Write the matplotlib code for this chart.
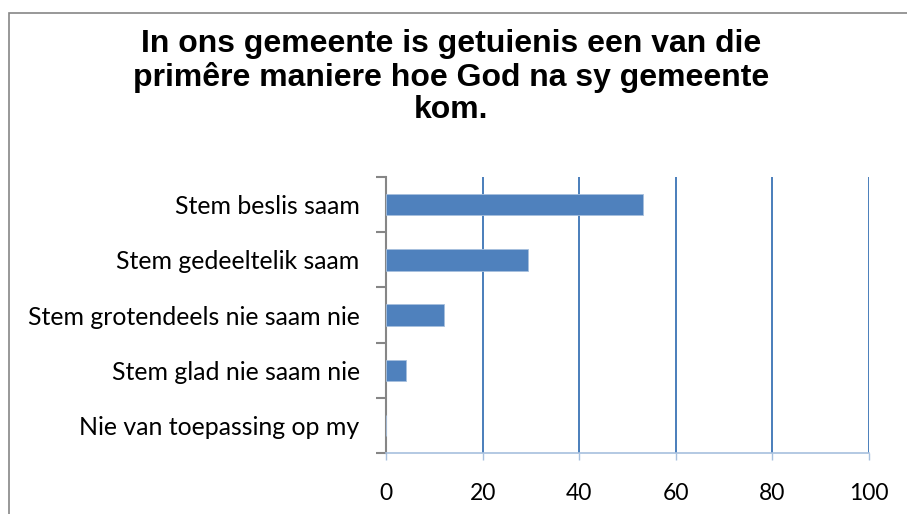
import matplotlib
matplotlib.use("Agg")
import matplotlib.pyplot as plt
from matplotlib.patches import Rectangle

# data
categories = ["Stem beslis saam", "Stem gedeeltelik saam",
              "Stem grotendeels nie saam nie", "Stem glad nie saam nie",
              "Nie van toepassing op my"]
values = [53.2, 29.4, 12.0, 4.2, 0.0]
xticks = [0, 20, 40, 60, 80, 100]
title = "In ons gemeente is getuienis een van die\nprimêre maniere hoe God na sy gemeente\nkom."

bar_col = "#4F81BD"
grid_col = "#4A7EBB"

fig = plt.figure(figsize=(9.07, 5.14), dpi=100)
ax = fig.add_axes([0.4256, 0.118, 0.5325, 0.538])

ypos = list(range(len(categories)))
ax.barh(ypos, values, height=0.39, color=bar_col, edgecolor="#A7C0DE", linewidth=0.6, zorder=3)
ax.set_ylim(len(categories) - 0.5, -0.5)
ax.set_xlim(0, 100)

ax.set_xticks(xticks)
ax.set_xticklabels([str(t) for t in xticks])
ax.set_yticks(ypos)
ax.set_yticklabels(categories)

# category tick marks sit between the labels (Excel style)
ax.set_yticks([i - 0.5 for i in range(len(categories) + 1)], minor=True)
ax.tick_params(axis="y", which="major", length=0, pad=19)
ax.tick_params(axis="y", which="minor", length=7, width=1.5, color="#868686")
ax.tick_params(axis="x", length=5, width=1, color="#A7C0DE", pad=16)

for lab in ax.get_yticklabels():
    lab.set_fontfamily("Lato")
    lab.set_fontsize(17.9)
for lab in ax.get_xticklabels():
    lab.set_fontfamily("Lato")
    lab.set_fontsize(16.5)

ax.xaxis.grid(True, color=grid_col, linewidth=1.4, zorder=0)
for s in ["top", "right"]:
    ax.spines[s].set_visible(False)
ax.spines["left"].set_color("#868686")
ax.spines["left"].set_linewidth(1.5)
ax.spines["bottom"].set_color("#A7C0DE")
ax.spines["bottom"].set_linewidth(1.2)

fig.text(0.497, 0.943, title, ha="center", va="top", fontsize=23,
         fontweight="bold", family="Liberation Sans", linespacing=1.1)

# chart frame
fig.patches.append(Rectangle((0.0095, -0.05), 1.2, 1.025, transform=fig.transFigure,
                             fill=False, edgecolor="#868686", linewidth=1.2))

fig.savefig("out.png", dpi=100)
